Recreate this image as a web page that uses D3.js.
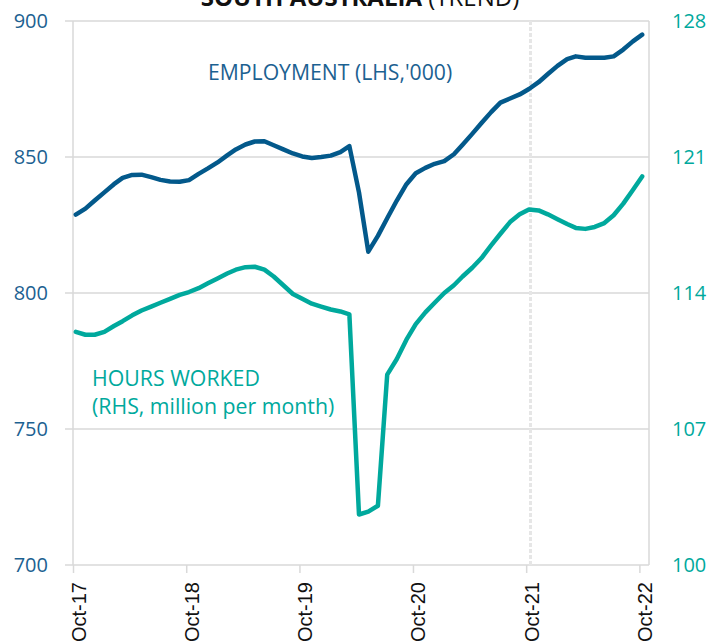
<!DOCTYPE html>
<html>
<head>
<meta charset="utf-8">
<script src="https://cdn.jsdelivr.net/npm/d3@7"></script>
<style>
  body { margin: 0; background: #fff; }
  svg { font-family: "Open Sans", sans-serif; display: block; }
</style>
</head>
<body>
<div id="chart"></div>
<script>
// months Oct-17 .. Oct-22
const firstMonth = new Date(2017, 9, 1);
const lastMonth = new Date(2022, 9, 1);

// employment, '000 (left axis)
const employment = [
  828.8, 831, 834, 837, 840, 842.3, 843.4, 843.5, 842.6, 841.6, 841, 840.9,
  841.5, 843.8, 845.8, 848, 850.6, 852.8, 854.6, 855.7, 855.8, 854.3, 852.8, 851.3,
  850.2, 849.6, 850, 850.5, 851.8, 854, 837, 815.2, 821, 827.5, 834, 840,
  844, 846, 847.5, 848.5, 851, 854.5, 858.5, 862.5, 866.5, 870, 871.5, 873,
  875, 877.5, 880.5, 883.5, 886, 887, 886.5, 886.5, 886.5, 887, 889.5, 892.5,
  895
];

// hours worked, million per month (right axis)
const hoursWorked = [
  112.0, 111.85, 111.85, 112.0, 112.3, 112.55, 112.85, 113.1, 113.3, 113.5, 113.7, 113.9,
  114.05, 114.25, 114.5, 114.75, 115.0, 115.2, 115.33, 115.35, 115.2, 114.85, 114.4, 113.95,
  113.7, 113.45, 113.3, 113.15, 113.05, 112.9, 102.6, 102.75, 103.05, 109.8, 110.6, 111.6,
  112.4, 113.0, 113.5, 114.0, 114.4, 114.85, 115.3, 115.8, 116.45, 117.05, 117.65, 118.05,
  118.3, 118.25, 118.05, 117.8, 117.55, 117.35, 117.3, 117.4, 117.6, 118.0, 118.6, 119.3,
  120.0
];

const leftTicks = [700, 750, 800, 850, 900];
const rightTicks = [100, 107, 114, 121, 128];
const xTickYears = [2017, 2018, 2019, 2020, 2021, 2022];
const markerDate = new Date(2021, 9, 15);

function init() {
  const width = 710, height = 643;
  const margin = {top: 21, right: 61, bottom: 78, left: 73};

  // data points sit a little after the month tick in the original
  const months = d3.timeMonth.range(firstMonth, d3.timeMonth.offset(lastMonth, 1))
      .map(m => d3.timeDay.offset(m, 9));

  const svg = d3.select("#chart").append("svg")
      .attr("width", width)
      .attr("height", height);

  const x = d3.scaleTime()
      .domain([firstMonth, d3.timeMonth.offset(lastMonth, 1)])
      .range([margin.left, width - margin.right]);
  const yL = d3.scaleLinear().domain([700, 900]).range([height - margin.bottom, margin.top]);
  const yR = d3.scaleLinear().domain([100, 128]).range([height - margin.bottom, margin.top]);

  const grid = "#d9d9d9";
  const blue = "#03598b";
  const blueText = "#1c6191";
  const teal = "#00a99d";

  // horizontal gridlines
  svg.append("g")
    .selectAll("line")
    .data(leftTicks)
    .join("line")
      .attr("x1", margin.left - 8)
      .attr("x2", width - margin.right)
      .attr("y1", d => yL(d))
      .attr("y2", d => yL(d))
      .attr("stroke", grid)
      .attr("stroke-width", 1.5);

  // left axis line and right border
  svg.append("line")
      .attr("x1", margin.left).attr("x2", margin.left)
      .attr("y1", margin.top).attr("y2", height - margin.bottom)
      .attr("stroke", grid).attr("stroke-width", 1.5);
  svg.append("line")
      .attr("x1", width - margin.right).attr("x2", width - margin.right)
      .attr("y1", margin.top).attr("y2", height - margin.bottom)
      .attr("stroke", grid).attr("stroke-width", 1.5);

  // dashed marker
  svg.append("line")
      .attr("x1", x(markerDate)).attr("x2", x(markerDate))
      .attr("y1", margin.top).attr("y2", height - margin.bottom)
      .attr("stroke", "#e6e6e6")
      .attr("stroke-width", 3)
      .attr("stroke-dasharray", "4,2");

  // x axis
  const xTicks = xTickYears.map(yr => new Date(yr, 9, 1));
  const xAxis = svg.append("g")
      .attr("transform", `translate(0,${height - margin.bottom})`)
      .call(d3.axisBottom(x).tickValues(xTicks).tickSize(8).tickSizeOuter(0)
        .tickFormat(d3.timeFormat("Oct-%y")));
  xAxis.select(".domain").remove();
  xAxis.selectAll(".tick line").attr("stroke", grid).attr("stroke-width", 1.5);
  xAxis.selectAll(".tick text")
      .attr("text-anchor", "end")
      .attr("x", -17)
      .attr("y", 0)
      .attr("dy", "0.35em")
      .attr("font-size", 20)
      .attr("fill", "#111")
      .attr("transform", "rotate(-90) translate(0,5)");

  // left axis labels
  svg.append("g")
    .selectAll("text")
    .data(leftTicks)
    .join("text")
      .attr("x", 48)
      .attr("y", d => yL(d))
      .attr("dy", "0.35em")
      .attr("text-anchor", "end")
      .attr("font-size", 20)
      .attr("fill", blueText)
      .text(d => d);

  // right axis labels
  svg.append("g")
    .selectAll("text")
    .data(rightTicks)
    .join("text")
      .attr("x", 672)
      .attr("y", d => yR(d))
      .attr("dy", "0.35em")
      .attr("font-size", 20)
      .attr("fill", teal)
      .text(d => d);

  // lines
  const lineL = d3.line().x((d, i) => x(months[i])).y(d => yL(d));
  const lineR = d3.line().x((d, i) => x(months[i])).y(d => yR(d));

  svg.append("path")
      .datum(hoursWorked)
      .attr("d", lineR)
      .attr("fill", "none")
      .attr("stroke", teal)
      .attr("stroke-width", 4.5)
      .attr("stroke-linejoin", "round")
      .attr("stroke-linecap", "round");

  svg.append("path")
      .datum(employment)
      .attr("d", lineL)
      .attr("fill", "none")
      .attr("stroke", blue)
      .attr("stroke-width", 4.5)
      .attr("stroke-linejoin", "round")
      .attr("stroke-linecap", "round");

  // annotations
  svg.append("text")
      .attr("x", 208).attr("y", 80)
      .attr("font-size", 21.2)
      .attr("fill", blueText)
      .text("EMPLOYMENT (LHS,'000)");

  const hw = svg.append("text")
      .attr("font-size", 21.3)
      .attr("fill", teal);
  hw.append("tspan").attr("x", 92).attr("y", 386).text("HOURS WORKED");
  hw.append("tspan").attr("x", 92).attr("y", 414).text("(RHS, million per month)");

  // title (cropped at top in the original)
  const title = svg.append("text")
      .attr("x", 360).attr("y", 6)
      .attr("text-anchor", "middle")
      .attr("font-size", 24)
      .attr("fill", "#111");
  title.append("tspan").attr("font-weight", "bold").text("SOUTH AUSTRALIA");
  title.append("tspan").text(" (TREND)");
}

window.onload = init;
</script>
</body>
</html>
